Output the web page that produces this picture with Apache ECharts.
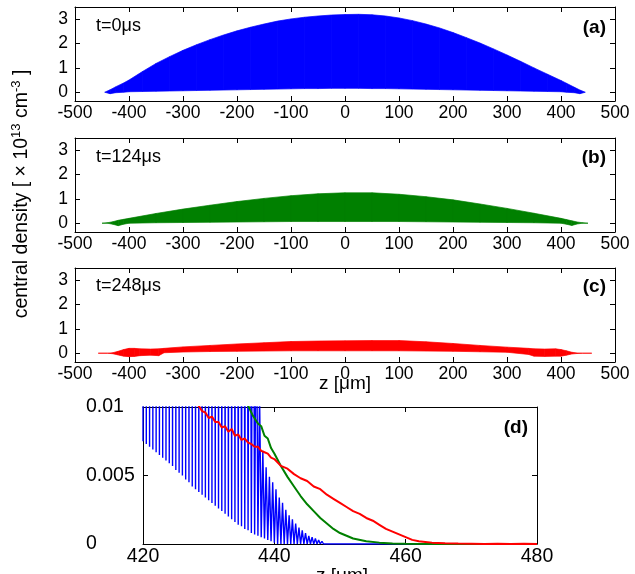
<!DOCTYPE html>
<html>
<head>
<meta charset="utf-8">
<script src="https://cdn.jsdelivr.net/npm/echarts@6/dist/echarts.min.js"></script>
<style>
html,body{margin:0;padding:0;background:#fff;}
#main{width:635px;height:574px;}
</style>
</head>
<body>
<div id="main"></div>
<script>
// (a) t=0us : envelope of the density oscillation (upper / lower edge)
var zA   = [-445,-435,-425,-410,-400,-375,-350,-325,-300,-275,-250,-225,-200,-175,-150,-125,-100,-75,-50,-25,0,
            25,50,75,100,125,150,175,200,225,250,275,300,325,350,375,400,410,425,435,445];
var upA  = [0,0.10,0.22,0.38,0.50,0.85,1.18,1.46,1.72,1.95,2.16,2.35,2.52,2.67,2.80,2.92,3.01,3.08,3.13,3.17,3.19,
            3.20,3.18,3.13,3.05,2.94,2.80,2.64,2.45,2.24,2.02,1.78,1.53,1.27,1.00,0.74,0.48,0.37,0.20,0.09,0];
var lowA = [0,-0.06,-0.02,0,0.02,0.03,0.04,0.05,0.06,0.07,0.08,0.09,0.10,0.11,0.12,0.13,0.14,0.15,0.15,0.16,0.16,
            0.16,0.15,0.15,0.14,0.13,0.12,0.11,0.10,0.09,0.08,0.07,0.06,0.05,0.04,0.03,0.02,0,-0.02,-0.06,0];

// (b) t=124us
var zB   = [-450,-440,-430,-420,-410,-400,-350,-300,-250,-200,-150,-100,-50,0,50,100,150,200,250,300,350,400,410,420,430,440,450];
var upB  = [0,0.02,0.06,0.12,0.16,0.20,0.40,0.58,0.74,0.89,1.02,1.13,1.21,1.25,1.25,1.19,1.09,0.96,0.79,0.61,0.41,0.20,0.15,0.10,0.05,0.02,0];
var lowB = [0,0,-0.04,-0.10,-0.04,0,0.02,0.03,0.04,0.05,0.06,0.07,0.07,0.07,0.07,0.07,0.06,0.05,0.04,0.03,0.02,0,-0.04,-0.09,-0.03,0,0];

// (c) t=248us
var zC   = [-457,-440,-430,-420,-410,-400,-390,-380,-360,-345,-335,-300,-250,-200,-150,-100,-50,0,50,100,150,200,250,300,340,350,370,390,400,410,420,430,440,457];
var upC  = [0,0,0.02,0.08,0.15,0.20,0.20,0.18,0.17,0.18,0.20,0.26,0.32,0.38,0.43,0.48,0.50,0.51,0.52,0.52,0.47,0.40,0.32,0.25,0.20,0.18,0.17,0.18,0.15,0.10,0.04,0.01,0,0];
var lowC = [0,0,-0.02,-0.07,-0.12,-0.14,-0.13,-0.10,-0.08,-0.10,0.02,0.05,0.07,0.08,0.09,0.10,0.10,0.10,0.10,0.10,0.09,0.08,0.06,0.04,-0.05,-0.12,-0.13,-0.12,-0.12,-0.08,-0.03,-0.01,0,0];

// (d) zoom on the right edge
var dBlueZ = [420,420.25,420.5,420.75,421,421.25,421.5,421.75,422,422.25,422.5,422.75,423,423.25,423.5,423.75,
  424,424.25,424.5,424.75,425,425.25,425.5,425.75,426,426.25,426.5,426.75,427,427.25,427.5,427.75,
  428,428.25,428.5,428.75,429,429.25,429.5,429.75,430,430.25,430.5,430.75,431,431.25,431.5,431.75,
  432,432.25,432.5,432.75,433,433.25,433.5,433.75,434,434.25,434.5,434.75,435,435.25,435.5,435.75,
  436,436.25,436.5,436.75,437,437.25,437.5,437.75,438,438.25,438.5,438.75,439,439.25,439.5,439.75,
  440,440.25,440.5,440.75,441,441.25,441.5,441.75,442,442.25,442.5,442.75,443,443.25,443.5,443.75,
  444,444.25,444.5,444.75,445,445.25,445.5,445.75,446,446.25,446.5,446.75,447,447.25,447.5,447.75,448,480];
var dBlueN = [0.0075,0.30,0.0073,0.29,0.0071,0.29,0.0069,0.28,0.0067,0.27,0.0065,0.27,0.0063,0.26,0.0061,0.25,
  0.0059,0.24,0.0057,0.24,0.0054,0.23,0.0052,0.22,0.0050,0.21,0.0047,0.21,0.0045,0.20,0.0042,0.19,
  0.0040,0.18,0.0038,0.17,0.0036,0.17,0.0034,0.16,0.0032,0.15,0.0030,0.14,0.0028,0.13,0.0026,0.13,
  0.0024,0.12,0.0022,0.11,0.0020,0.10,0.0018,0.09,0.0016,0.08,0.0014,0.07,0.0013,0.06,0.0011,0.05,
  0.0010,0.04,0.0008,0.03,0.0007,0.02,0.0006,0.011,0.0005,0.0068,0.0004,0.0056,0.0003,0.0049,0.0002,0.0045,
  0.0001,0.0040,0,0.0034,0,0.0030,0,0.0025,0,0.0021,0,0.0018,0,0.0015,0,0.0012,
  0,0.0010,0,0.0008,0,0.0006,0,0.0005,0,0.0004,0,0.0003,0,0.0002,0,0.0001,0,0];

var dGreenZ = [435.5,436,436.3,436.7,437,437.5,438,438.5,439,439.5,440,441,442,443,444,445,446,447,448,449,450,451,452,454,456,458,460,465,470,475,480];
var dGreenN = [0.0108,0.0101,0.0100,0.0094,0.0095,0.0088,0.0086,0.0079,0.0077,0.0070,0.0066,0.0057,0.0049,0.0042,0.0035,0.0029,0.0024,0.0019,0.0015,0.0011,0.0008,0.0006,0.0004,0.0002,0.0001,0.00004,0.00002,0,0,0,0];

var dRedZ = [428,428.6,429,429.5,430,430.5,431,431.5,432,432.5,433,433.5,434,434.5,435,435.5,436,436.5,437,437.5,438,438.5,439,439.5,440,
  441,442,443,444,445,446,447,448,449,450,451,452,453,454,455,456,457,458,459,460,461,462,463,464,466,468,470,472,474,476,478,480];
var dRedN = [0.0104,0.0100,0.0097,0.0096,0.0092,0.0093,0.0089,0.0089,0.0085,0.0086,0.0082,0.0084,0.0079,0.0080,0.0076,0.0077,0.0074,0.0073,0.0071,0.0071,0.0068,0.0067,0.0066,0.0063,0.0062,
  0.0057,0.0055,0.0051,0.0048,0.0046,0.0042,0.0040,0.0036,0.0033,0.0030,0.0027,0.0024,0.0022,0.0019,0.0017,0.0014,0.0011,0.0009,0.0007,0.0005,0.0003,0.0002,0.00015,0.0001,0.00005,0.00003,0.00002,0,0.00002,0,0.00002,0];

var yTicksTop = [0, 1, 2, 3];
var FONT = "'Liberation Sans', Arial, Helvetica, sans-serif";

function zip(a, b) {
  return a.map(function (v, i) { return [v, b[i]]; });
}

function xAx(grid, min, max, interval, pos, fs) {
  return {
    type: 'value', gridIndex: grid, min: min, max: max, interval: interval, position: pos,
    axisLine: { show: true, onZero: false, lineStyle: { color: '#000', width: 1 } },
    axisTick: { show: true, inside: true, length: 5, lineStyle: { color: '#000' } },
    axisLabel: { show: pos === 'bottom', color: '#000', fontSize: fs, fontFamily: FONT, margin: 3 },
    splitLine: { show: false }
  };
}

function yAxTop(grid, pos) {
  return {
    type: 'value', gridIndex: grid, min: -0.36, max: 3.5, position: pos,
    axisLine: { show: true, onZero: false, lineStyle: { color: '#000', width: 1 } },
    axisTick: { show: true, inside: true, length: 5, customValues: yTicksTop, lineStyle: { color: '#000' } },
    axisLabel: { show: pos === 'left', customValues: yTicksTop, color: '#000', fontSize: 17.5, fontFamily: FONT, margin: 7 },
    splitLine: { show: false }
  };
}

function yAxD(grid, pos) {
  return {
    type: 'value', gridIndex: grid, min: 0, max: 0.01, interval: 0.005, position: pos,
    axisLine: { show: true, onZero: false, lineStyle: { color: '#000', width: 1 } },
    axisTick: { show: true, inside: true, length: 5, lineStyle: { color: '#000' } },
    axisLabel: { show: pos === 'left', color: '#000', fontSize: 19.5, fontFamily: FONT, margin: 57, align: 'left' },
    splitLine: { show: false }
  };
}

// filled band between the lower and upper envelope, one quad per segment
function band(z, low, up, color, axis) {
  var segs = [];
  for (var i = 0; i < z.length - 1; i++) {
    segs.push([z[i], low[i], up[i], z[i + 1], low[i + 1], up[i + 1]]);
  }
  return {
    type: 'custom', coordinateSystem: 'cartesian2d', xAxisIndex: axis, yAxisIndex: axis,
    data: segs, silent: true, clip: true,
    encode: { x: [0, 3], y: [1, 2, 4, 5] },
    renderItem: function (params, api) {
      var pts = [
        api.coord([api.value(0), api.value(1)]),
        api.coord([api.value(3), api.value(4)]),
        api.coord([api.value(3), api.value(5)]),
        api.coord([api.value(0), api.value(2)])
      ];
      return { type: 'polygon', shape: { points: pts }, style: { fill: color, stroke: color, lineWidth: 0.7 } };
    }
  };
}

function label(x, y, text, opts) {
  opts = opts || {};
  return {
    type: 'text', x: x, y: y, rotation: opts.rotation || 0, z: 100,
    style: {
      text: text, fill: '#000', fontSize: opts.size || 18, fontFamily: FONT,
      fontWeight: opts.bold ? 'bold' : 'normal',
      textAlign: opts.align || 'left', textVerticalAlign: 'middle',
      rich: opts.rich
    }
  };
}

var chart = echarts.init(document.getElementById('main'));

var grids = [
  { left: 75, top: 7, width: 540, height: 94 },
  { left: 75, top: 138, width: 540, height: 94 },
  { left: 75, top: 268, width: 540, height: 94 },
  { left: 143, top: 407, width: 394, height: 137 }
];
grids.forEach(function (g) { g.containLabel = false; g.outerBoundsMode = 'none'; });

var xAxes = [], yAxes = [];
for (var g = 0; g < 3; g++) {
  xAxes.push(xAx(g, -500, 500, 100, 'bottom', 17.5));
  yAxes.push(yAxTop(g, 'left'));
}
xAxes.push(xAx(3, 420, 480, 20, 'bottom', 19.5));
yAxes.push(yAxD(3, 'left'));
// mirrored frame axes (top / right)
for (g = 0; g < 3; g++) {
  xAxes.push(xAx(g, -500, 500, 100, 'top', 17.5));
  yAxes.push(yAxTop(g, 'right'));
}
xAxes.push(xAx(3, 420, 480, 20, 'top', 19.5));
yAxes.push(yAxD(3, 'right'));

var series = [
  band(zA, lowA, upA, '#0000ff', 0),
  band(zB, lowB, upB, '#008000', 1),
  band(zC, lowC, upC, '#ff0000', 2),
  { type: 'line', xAxisIndex: 3, yAxisIndex: 3, data: zip(dBlueZ, dBlueN), symbol: 'none', silent: true,
    lineStyle: { color: '#0000ff', width: 1.4 } },
  { type: 'line', xAxisIndex: 3, yAxisIndex: 3, data: zip(dGreenZ, dGreenN), symbol: 'none', silent: true,
    lineStyle: { color: '#008000', width: 2 } },
  { type: 'line', xAxisIndex: 3, yAxisIndex: 3, data: zip(dRedZ, dRedN), symbol: 'none', silent: true,
    lineStyle: { color: '#ff0000', width: 2 } }
];

var option = {
  animation: false,
  backgroundColor: '#fff',
  grid: grids,
  xAxis: xAxes,
  yAxis: yAxes,
  series: series,
  graphic: [
    label(96, 26, 't=0\u03bcs'),
    label(96, 157, 't=124\u03bcs'),
    label(96, 286, 't=248\u03bcs'),
    label(606, 28, '(a)', { bold: true, align: 'right', size: 19 }),
    label(606, 158, '(b)', { bold: true, align: 'right', size: 19 }),
    label(606, 287, '(c)', { bold: true, align: 'right', size: 19 }),
    label(528, 428, '(d)', { bold: true, align: 'right', size: 19 }),
    label(345, 384, 'z [\u03bcm]', { align: 'center', size: 19 }),
    label(342, 576, 'z [\u03bcm]', { align: 'center', size: 19 }),
    label(22, 194, 'central density [ \u00d7 10{sup|13} cm{sup|-3} ]', {
      align: 'center', size: 19.5, rotation: Math.PI / 2,
      rich: { sup: { fontSize: 13, fontFamily: FONT, padding: [0, 0, 12, 0] } }
    })
  ]
};

chart.setOption(option);
</script>
</body>
</html>
